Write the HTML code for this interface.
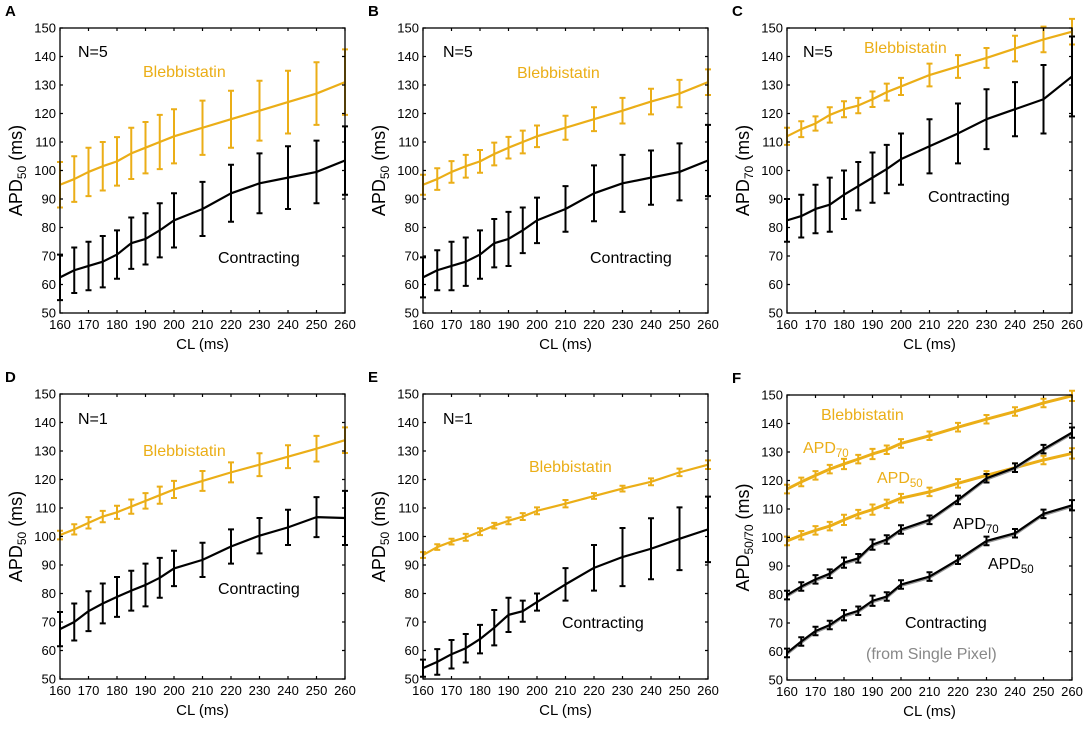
<!DOCTYPE html>
<html><head><meta charset="utf-8"><style>
body{margin:0;background:#fff;width:1084px;height:725px;overflow:hidden}
svg{font-family:"Liberation Sans",Arial,sans-serif}
</style></head><body>
<svg id="fig" width="1084" height="725" viewBox="0 0 1084 725" xmlns="http://www.w3.org/2000/svg"></svg>
<script>
const cl=[160,165,170,175,180,185,190,195,200,210,220,230,240,250,260];
const yTicks=[50,60,70,80,90,100,110,120,130,140,150];
const xTicks=[160,170,180,190,200,210,220,230,240,250,260];
const aBleb=[95,97,99.5,101.5,103.2,106,108,110,112,115,118,121,124,127,131];
const aBlebErr=[8,8,8.5,8.5,8.5,9,9,9.5,9.5,9.5,10,10.5,11,11,11.5];
const aCon=[62.5,65,66.5,68,70.5,74.5,76,79,82.5,86.5,92,95.5,97.5,99.5,103.5];
const aConErr=[8,8,8.5,9,8.5,9,9,9.5,9.5,9.5,10,10.5,11,11,12];
const bBleb=[95,97,99.5,101.5,103.2,105.8,108,110,112,115,118,121,124.2,127,131];
const bBlebErr=[3.5,3.8,3.8,4,4,4,3.8,4,3.8,4.2,4.2,4.5,4.5,4.8,4.5];
const bCon=[62.5,65,66.5,68,70.5,74.5,76,79,82.5,86.5,92,95.5,97.5,99.5,103.5];
const bConErr=[7,7,8.5,8.5,8.5,8.5,9.5,8,8,8,9.8,10,9.5,10,12.5];
const cBleb=[112,114.5,116.5,119.5,121.5,122.8,125,127.5,129.5,133.5,136.5,139.5,142.8,146,148.7];
const cBlebErr=[3,2.8,2.5,2.7,2.8,2.7,2.7,3,3,4,4,3.5,4.5,4.5,4.5];
const cCon=[82.5,84,86.5,88,91.5,94.5,97.5,100.5,104,108.5,113,118,121.5,125,133];
const cConErr=[7.5,7.5,8.5,9.5,8.5,8.5,8.8,8.5,9,9.5,10.5,10.5,9.5,12,14];
const dBleb=[100.5,102.5,104.8,107,108.5,110.5,112.5,114.5,116.5,119.5,122.5,125.2,128,130.8,133.8];
const dBlebErr=[1.5,1.8,2,2,2.3,2.5,2.7,3,3,3.5,3.5,4,4,4.5,4.5];
const dCon=[67.5,70,73.8,76.5,78.8,81,83,85.5,88.8,91.8,96.5,100.3,103.2,106.8,106.5];
const dConErr=[6,6.5,7,7,7,7,7.5,7,6.2,6,6,6.2,6.2,7,9.5];
const eBleb=[93.5,96.3,98.2,99.7,101.7,103.8,105.5,107,109,111.5,114.2,116.8,119.2,122.5,125.2];
const eBlebErr=[1,1,1,1.2,1.2,1,1.2,1.2,1.2,1.3,1,1,1.2,1.3,1.5];
const eCon=[53.8,56,58.7,60.8,64,68,72.5,73.8,77,83.2,89,92.8,95.7,99.2,102.5];
const eConErr=[3,4.5,5,5,5,6.2,6,3.7,3,5.7,8,10.2,10.7,11,11.5];
const fBleb70=[117,119.5,121.8,124,125.8,127.5,129.3,130.8,133,135.7,138.7,141.5,144.2,147.2,149.7];
const fBleb50=[98.8,100.8,102.5,104,106.2,108.2,109.8,111.8,113.8,116,119,121.8,124.5,127.2,129.5];
const fCon70=[79.8,82.8,85.3,87.3,91.2,92.7,97.5,99.3,102.8,106.2,113.2,120.8,124.5,131,136.8];
const fCon50=[59.5,63.5,67.2,69.3,72.7,74.3,77.8,79.3,83.5,86.3,92.2,98.8,101.5,108.3,111.3];
const fErr=[1.5,1.5,1.5,1.5,1.8,1.5,1.8,1.5,1.5,1.5,1.5,1.5,1.5,1.5,1.8];

const NS="http://www.w3.org/2000/svg";
const svg=document.getElementById('fig');
const OR="#ebae17";
function mk(tag,attrs,parent,text){const e=document.createElementNS(NS,tag);for(const k in attrs)e.setAttribute(k,attrs[k]);if(text!==undefined)e.textContent=text;(parent||svg).appendChild(e);return e;}

function panel(id,L,T,letter,ysub,series,notes){
  const W=285,H=285;
  const g=mk('g',{});
  
  
  const X=v=>L+(v-160)/100*W, Y=v=>T+H-(v-50)/100*H;
  const lt=mk('text',{x:L-55,y:T-12,'font-size':15,'font-weight':'bold'},g,letter);
  
  
  series.forEach((s,si)=>{
    const sg=mk('g',{},g);
    
    
    if(s.shadow){
      mk('polyline',{points:cl.map((c,i)=>X(c)+','+(Y(s.y[i])+1.5)).join(' '),fill:'none',stroke:'#999','stroke-width':2},sg);
    }
    s.e.forEach((er,i)=>{
      const x=X(cl[i]),y1=Y(s.y[i]-er),y2=Y(s.y[i]+er);
      const b=mk('path',{d:`M${x},${y1}V${y2}M${x-3},${y1}H${x+3}M${x-3},${y2}H${x+3}`,stroke:s.c,'stroke-width':2,fill:'none'},sg);
      
      
    });
    const ln=mk('polyline',{points:cl.map((c,i)=>X(c)+','+Y(s.y[i])).join(' '),fill:'none',stroke:s.c,'stroke-width':s.w||2.2,'stroke-linejoin':'round'},sg);
    
    
  });
  const ax=mk('rect',{x:L,y:T,width:W,height:H,fill:'none',stroke:'#000','stroke-width':1.3},g);
  
  
  yTicks.forEach(v=>{
    const y=Y(v);
    mk('path',{d:`M${L},${y}h3M${L+W},${y}h-3`,stroke:'#000','stroke-width':1.2},g);
    const t=mk('text',{x:L-4,y:y+4.5,'font-size':13,'text-anchor':'end'},g,v);
    
    
  });
  xTicks.forEach(v=>{
    const x=X(v);
    mk('path',{d:`M${x},${T+H}v-3M${x},${T}v3`,stroke:'#000','stroke-width':1.2},g);
    const t=mk('text',{x:x,y:T+H+16,'font-size':13,'text-anchor':'middle'},g,v);
    
    
  });
  const xt=mk('text',{x:L+W/2,y:T+H+36,'font-size':15,'text-anchor':'middle'},g,'CL (ms)');
  
  
  const yt=mk('text',{transform:`translate(${L-38},${T+H/2}) rotate(-90)`,'font-size':18,'text-anchor':'middle'},g);
  
  
  mk('tspan',{},yt,'APD');mk('tspan',{'font-size':12,dy:4},yt,ysub);mk('tspan',{dy:-4},yt,' (ms)');
  notes.forEach(n=>{
    const t=mk('text',{x:n.x,y:n.y,'font-size':16,fill:n.c||'#000'},g);
    
    
    mk('tspan',{},t,n.t);
    if(n.sub)mk('tspan',{'font-size':11.5,dy:4},t,n.sub);
  });
}
const K='#000';
panel('a',60,28,'A','50',[{name:'blebbistatin',y:aBleb,e:aBlebErr,c:OR},{name:'contracting',y:aCon,e:aConErr,c:K}],
 [{name:'n-label',t:'N=5',x:78,y:57},{name:'blebbistatin-label',t:'Blebbistatin',x:143,y:77,c:OR},{name:'contracting-label',t:'Contracting',x:218,y:263}]);
panel('b',423,28,'B','50',[{name:'blebbistatin',y:bBleb,e:bBlebErr,c:OR},{name:'contracting',y:bCon,e:bConErr,c:K}],
 [{name:'n-label',t:'N=5',x:443,y:57},{name:'blebbistatin-label',t:'Blebbistatin',x:517,y:78,c:OR},{name:'contracting-label',t:'Contracting',x:590,y:263}]);
panel('c',787,28,'C','70',[{name:'blebbistatin',y:cBleb,e:cBlebErr,c:OR},{name:'contracting',y:cCon,e:cConErr,c:K}],
 [{name:'n-label',t:'N=5',x:803,y:57},{name:'blebbistatin-label',t:'Blebbistatin',x:864,y:53,c:OR},{name:'contracting-label',t:'Contracting',x:928,y:202}]);
panel('d',60,394,'D','50',[{name:'blebbistatin',y:dBleb,e:dBlebErr,c:OR},{name:'contracting',y:dCon,e:dConErr,c:K}],
 [{name:'n-label',t:'N=1',x:78,y:424},{name:'blebbistatin-label',t:'Blebbistatin',x:143,y:456,c:OR},{name:'contracting-label',t:'Contracting',x:218,y:594}]);
panel('e',423,394,'E','50',[{name:'blebbistatin',y:eBleb,e:eBlebErr,c:OR},{name:'contracting',y:eCon,e:eConErr,c:K}],
 [{name:'n-label',t:'N=1',x:443,y:424},{name:'blebbistatin-label',t:'Blebbistatin',x:529,y:472,c:OR},{name:'contracting-label',t:'Contracting',x:562,y:628}]);
panel('f',787,395,'F','50/70',[
 {name:'blebbistatin-apd70',y:fBleb70,e:fErr,c:OR,w:3},{name:'blebbistatin-apd50',y:fBleb50,e:fErr,c:OR,w:3},
 {name:'contracting-apd70',y:fCon70,e:fErr,c:K,shadow:true},{name:'contracting-apd50',y:fCon50,e:fErr,c:K,shadow:true}],
 [{name:'blebbistatin-label',t:'Blebbistatin',x:821,y:420,c:OR},{name:'apd70-orange-label',t:'APD',sub:'70',x:803,y:453,c:OR},
  {name:'apd50-orange-label',t:'APD',sub:'50',x:877,y:483,c:OR},{name:'apd70-black-label',t:'APD',sub:'70',x:953,y:529},
  {name:'apd50-black-label',t:'APD',sub:'50',x:988,y:569},{name:'contracting-label',t:'Contracting',x:905,y:628},
  {name:'single-pixel-label',t:'(from Single Pixel)',x:866,y:659,c:'#888'}]);
</script>
</body></html>
